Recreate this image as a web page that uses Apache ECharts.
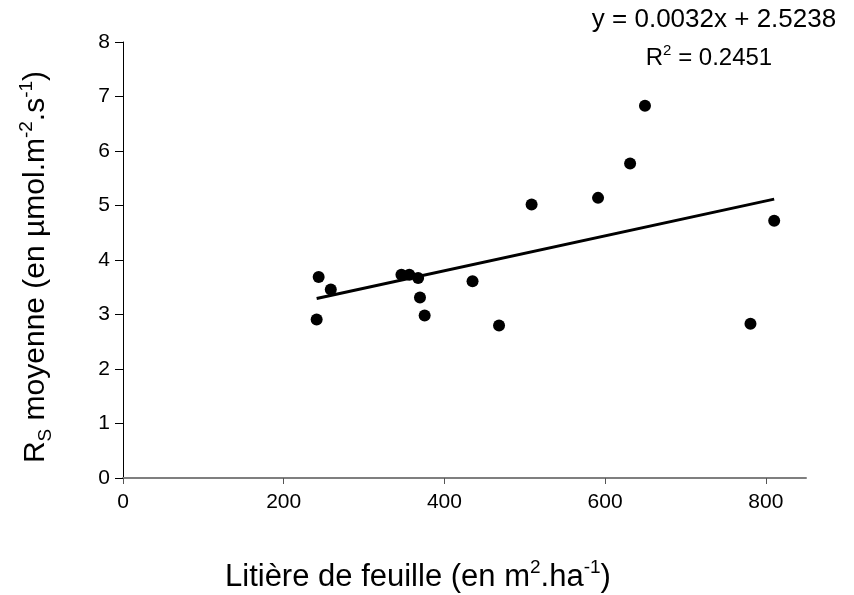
<!DOCTYPE html>
<html><head><meta charset="utf-8">
<script src="https://cdn.jsdelivr.net/npm/echarts@6/dist/echarts.min.js"></script>
<style>html,body{margin:0;padding:0;background:#fff}#c{width:854px;height:595px}</style>
</head><body><div id="c"></div>
<script>
const litiere = [241, 243.5, 258.6, 346.5, 356.3, 367.3, 369.6, 375.4, 435, 468, 508.5, 591.2, 631.1, 649.6, 780.9, 810.4];
const rsMoyenne = [2.91, 3.69, 3.46, 3.73, 3.73, 3.67, 3.31, 2.98, 3.61, 2.80, 5.02, 5.14, 5.77, 6.83, 2.83, 4.72];
const slope = 0.0032, intercept = 2.5238, r2 = 0.2451;
const xTicks = [0, 200, 400, 600, 800];

const pts = litiere.map((x, i) => [x, rsMoyenne[i]]);
const xmin = Math.min(...litiere), xmax = Math.max(...litiere);
const trend = [[xmin, slope * xmin + intercept], [xmax, slope * xmax + intercept]];
const font = 'Liberation Sans';

const chart = echarts.init(document.getElementById('c'));
chart.setOption({
  animation: false,
  backgroundColor: '#fff',
  grid: { left: 123, right: 48, top: 42, bottom: 117, containLabel: false, outerBoundsMode: 'none' },
  xAxis: {
    type: 'value', min: 0, max: 850, interval: 200,
    splitLine: { show: false },
    axisLine: { lineStyle: { color: '#7f7f7f', width: 2 } },
    axisTick: { customValues: xTicks, length: 6, lineStyle: { color: '#555', width: 1 } },
    axisLabel: { customValues: xTicks, color: '#000', fontFamily: font, fontSize: 21, margin: 14 }
  },
  yAxis: {
    type: 'value', min: 0, max: 8, interval: 1,
    splitLine: { show: false },
    axisLine: { onZero: false, lineStyle: { color: '#000', width: 1 } },
    axisTick: { length: 8, lineStyle: { color: '#000' } },
    axisLabel: { color: '#000', fontFamily: font, fontSize: 21, margin: 13 },
    name: '{n|R}{sub|S}{n| moyenne (en µmol.m}{sup|-2}{n|.s}{sup|-1}{n|)}',
    nameLocation: 'middle', nameRotate: 90, nameGap: 68,
    nameTextStyle: {
      color: '#000', fontFamily: font, fontSize: 30, padding: [0, 14, 0, 0],
      rich: {
        n: { fontFamily: font, fontSize: 30, color: '#000', lineHeight: 38, verticalAlign: 'middle' },
        sub: { fontFamily: font, fontSize: 19, color: '#000', lineHeight: 38, verticalAlign: 'bottom' },
        sup: { fontFamily: font, fontSize: 19, color: '#000', lineHeight: 38, verticalAlign: 'top' }
      }
    }
  },
  graphic: [
    { type: 'text', x: 225, y: 577, style: {
      text: '{n|Litière de feuille (en m}{sup|2}{n|.ha}{sup|-1}{n|)}',
      fill: '#000', font: '31px ' + font, verticalAlign: 'middle',
      rich: {
        n: { fontFamily: font, fontSize: 31, fill: '#000', lineHeight: 38, verticalAlign: 'middle' },
        sup: { fontFamily: font, fontSize: 19, fill: '#000', lineHeight: 38, verticalAlign: 'top' }
      } } },
    { type: 'text', x: 714, y: 20, style: {
      text: 'y = ' + slope.toFixed(4) + 'x + ' + intercept.toFixed(4),
      fill: '#000', font: '26px ' + font, align: 'center', verticalAlign: 'middle' } },
    { type: 'text', x: 709, y: 58, style: {
      text: '{n|R}{sup|2}{n| = ' + r2.toFixed(4) + '}',
      align: 'center', verticalAlign: 'middle', fill: '#000', font: '24px ' + font,
      rich: {
        n: { fontFamily: font, fontSize: 24, fill: '#000', lineHeight: 30, verticalAlign: 'middle' },
        sup: { fontFamily: font, fontSize: 15, fill: '#000', lineHeight: 30, verticalAlign: 'top' }
      } } }
  ],
  series: [
    { type: 'line', data: trend, symbol: 'none', lineStyle: { color: '#000', width: 3 }, z: 2 },
    { type: 'scatter', data: pts, symbol: 'circle', symbolSize: 12, itemStyle: { color: '#000', opacity: 1 }, z: 3 }
  ]
});
</script></body></html>
